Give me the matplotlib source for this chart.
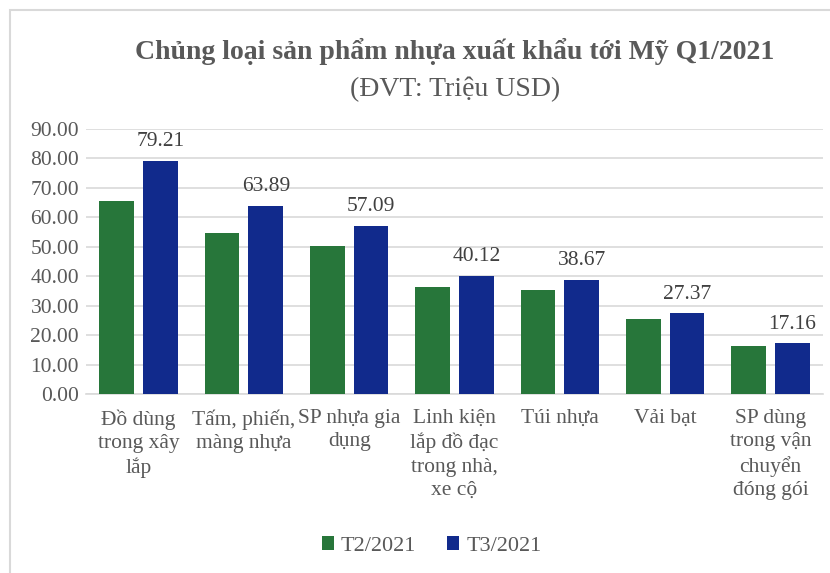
import matplotlib
matplotlib.use("Agg")
import matplotlib.pyplot as plt
import numpy as np
from matplotlib.patches import Rectangle

categories = ["Đồ dùng\ntrong xây\nlắp", "Tấm, phiến,\nmàng nhựa", "SP nhựa gia\ndụng",
              "Linh kiện\nlắp đồ đạc\ntrong nhà,\nxe cộ", "Túi nhựa", "Vải bạt",
              "SP dùng\ntrong vận\nchuyển\nđóng gói"]
t2 = [65.5, 54.6, 50.1, 36.4, 35.2, 25.6, 16.4]
t3 = [79.21, 63.89, 57.09, 40.12, 38.67, 27.37, 17.16]
series_names = ["T2/2021", "T3/2021"]

plt.rcParams['font.family'] = ['Liberation Serif', 'DejaVu Serif']
grey = "#595959"
green = "#27763A"
blue = "#112A8C"

fig = plt.figure(figsize=(8.3, 5.73), dpi=100)
ax = fig.add_axes([0.1036, 0.3124, 0.888, 0.4625])

x = np.arange(len(categories))
w = 0.33
off = 0.208
ax.bar(x - off, t2, w, color=green, label=series_names[0], zorder=3)
b3 = ax.bar(x + off, t3, w, color=blue, label=series_names[1], zorder=3)
ax.bar_label(b3, labels=[f"{v:.2f}" for v in t3], padding=7, fontsize=15.5, color="#404040")

ax.set_xlim(-0.5, len(categories) - 0.5)
ax.set_ylim(0, 90)
ax.set_yticks(np.arange(0, 91, 10))
ax.set_yticklabels([f"{v:.2f}" for v in np.arange(0, 91, 10)])
ax.grid(axis="y", color="#D9D9D9", linewidth=1.2, zorder=0)
for s in ["top", "right", "left"]:
    ax.spines[s].set_visible(False)
ax.spines["bottom"].set_color("#D9D9D9")
ax.spines["bottom"].set_linewidth(1.2)
ax.tick_params(axis="both", length=0, labelsize=15.5, labelcolor=grey)
ax.tick_params(axis="y", pad=5)
ax.set_xticks(x)
ax.set_xticklabels(categories, linespacing=1.3, va="top")
ax.tick_params(axis="x", pad=11)

fig.text(0.548, 0.91, "Chủng loại sản phẩm nhựa xuất khẩu tới Mỹ Q1/2021", ha="center", va="center",
         fontsize=20, fontweight="bold", color=grey)
fig.text(0.548, 0.844, "(ĐVT: Triệu USD)", ha="center", va="center", fontsize=20, color=grey)

fig.legend(loc="center", bbox_to_anchor=(0.52, 0.047), ncol=2, frameon=False, fontsize=16,
           handlelength=0.55, handleheight=0.55, handletextpad=0.3, columnspacing=1.4,
           labelcolor=grey)

fig.patches.append(Rectangle((10 / 830, -0.1), 1.2, (573 - 10) / 573 + 0.1, transform=fig.transFigure,
                             fill=False, edgecolor="#D9D9D9", linewidth=1.5))

fig.savefig("out.png", dpi=100)
